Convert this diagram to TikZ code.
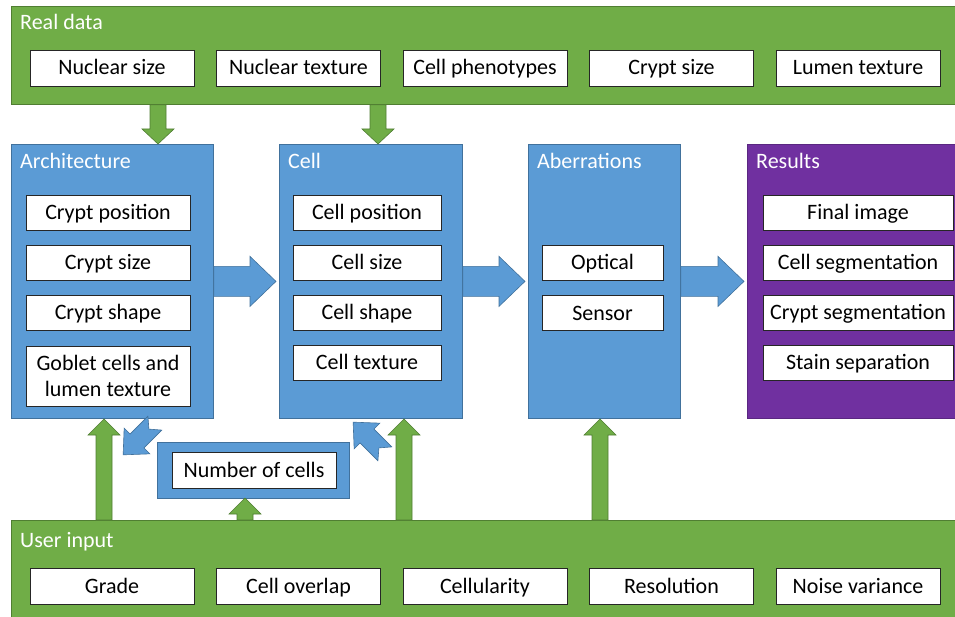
\documentclass[tikz,border=0pt]{standalone}
\usepackage{fontspec}
\setmainfont{Carlito}
\usepackage{tikz}
\usetikzlibrary{positioning,calc,arrows.meta}

\definecolor{officegreen}{HTML}{70AD47}
\definecolor{greenline}{HTML}{507E32}
\definecolor{officeblue}{HTML}{5B9BD5}
\definecolor{blueline}{HTML}{41719C}
\definecolor{officepurple}{HTML}{7030A0}
\definecolor{purpleline}{HTML}{5A2781}

% block arrows: style, tail, tip
\newcommand{\upblock}[3]{\draw[#1] let \p1=(#2), \p2=(#3) in
  (\x2,\y2) -- (\x2+16pt,\y2-16pt) -- (\x2+8pt,\y2-16pt) -- (\x2+8pt,\y1)
  -- (\x2-8pt,\y1) -- (\x2-8pt,\y2-16pt) -- (\x2-16pt,\y2-16pt) -- cycle;}
\newcommand{\downblock}[3]{\draw[#1] let \p1=(#2), \p2=(#3) in
  (\x2,\y2) -- (\x2+16pt,\y2+15pt) -- (\x2+8pt,\y2+15pt) -- (\x2+8pt,\y1)
  -- (\x2-8pt,\y1) -- (\x2-8pt,\y2+15pt) -- (\x2-16pt,\y2+15pt) -- cycle;}
\newcommand{\rightblock}[3]{\draw[#1] let \p1=(#2), \p2=(#3) in
  (\x2-3pt,\y2) -- (\x2-29pt,\y2+25pt) -- (\x2-29pt,\y2+15pt) -- (\x1,\y2+15pt)
  -- (\x1,\y2-15pt) -- (\x2-29pt,\y2-15pt) -- (\x2-29pt,\y2-25pt) -- cycle;}
\newcommand{\notchblock}[2]{\draw[bluearrow, shift={(#1)}, rotate=#2, scale=1.4]
  (-16,-7) -- (2,-7) -- (2,-13) -- (16,0) -- (2,13) -- (2,7) -- (-16,7) -- (-10,0) -- cycle;}

\begin{document}
\begin{tikzpicture}[x=1pt,y=-1pt,
    panel/.style={rectangle, draw=#1line, fill=office#1, line width=0.8pt, anchor=north west, inner sep=0pt},
    ptitle/.style={text=white, anchor=west, inner sep=0pt, text height=15pt, text depth=4pt, font=\fontsize{22}{25}\selectfont},
    boxbase/.style={rectangle, draw=black!85, fill=white, line width=0.8pt, minimum height=35pt, inner sep=0pt,
        align=center, font=\fontsize{22}{26}\selectfont},
    box/.style={boxbase, text height=17pt, text depth=3pt},
    greenarrow/.style={draw=greenline, fill=officegreen, line width=0.6pt},
    bluearrow/.style={draw=blueline, fill=officeblue, line width=0.6pt}]

    \useasboundingbox (0,0) rectangle (955,617);

    % panels
    \node[panel=green, minimum width=944pt, minimum height=98pt] (realdata) at (11,6) {};
    \node[panel=green, minimum width=944pt, minimum height=97pt] (userinput) at (11,520) {};
    \node[panel=blue, minimum width=202pt, minimum height=274pt] (arch) at (11,144) {};
    \node[panel=blue, minimum width=183pt, minimum height=274pt] (cell) at (279,144) {};
    \node[panel=blue, minimum width=152pt, minimum height=274pt] (aberr) at (528,144) {};
    \node[panel=purple, minimum width=208pt, minimum height=274pt] (results) at (747,144) {};
    \node[panel=blue, minimum width=192pt, minimum height=56pt] (ncpanel) at (157,442) {};

    \node[ptitle] (realtitle) at (20,24.5) {Real data};
    \node[ptitle] (usertitle) at (20,541.5) {User input};
    \node[ptitle] (archtitle) at (20,163) {Architecture};
    \node[ptitle] (celltitle) at (288,163) {Cell};
    \node[ptitle] (aberrtitle) at (537,163) {Aberrations};
    \node[ptitle] (restitle) at (756,163) {Results};

    % rows of boxes
    \foreach \t [count=\i] in {Nuclear size, Nuclear texture, Cell phenotypes, Crypt size, Lumen texture}
        \node[box, minimum width=164pt, minimum height=36pt] (rd\i) at ({112+186.5*(\i-1)},68) {\t};
    \foreach \t [count=\i] in {Grade, Cell overlap, Cellularity, Resolution, Noise variance}
        \node[box, minimum width=164pt, minimum height=36pt] (ui\i) at ({112+186.5*(\i-1)},586) {\t};

    \foreach \t [count=\i] in {Crypt position, Crypt size, Crypt shape}
        \node[box, minimum width=164pt] (arch\i) at (108,{212.5+50*(\i-1)}) {\t};
    \node[boxbase, minimum width=164pt, minimum height=60pt] (arch4) at (108,376) {Goblet cells and\\lumen texture};
    \foreach \t [count=\i] in {Cell position, Cell size, Cell shape, Cell texture}
        \node[box, minimum width=148pt] (cell\i) at (367,{212.5+50*(\i-1)}) {\t};
    \node[box, minimum width=121pt] (aberr1) at (602.5,262.5) {Optical};
    \node[box, minimum width=121pt, below=15pt of aberr1] (aberr2) {Sensor};
    \foreach \t [count=\i] in {Final image, Cell segmentation, Crypt segmentation, Stain separation}
        \node[box, minimum width=190pt] (res\i) at (858,{212.5+50*(\i-1)}) {\t};
    \node[box, minimum width=164pt, minimum height=36pt] (ncbox) at (254,470) {Number of cells};

    % connectors
    \coordinate (archtop) at (158,144);
    \coordinate (celltop) at (378,144);
    \coordinate (archbot) at (104,419);
    \coordinate (cellbot) at (404,419);
    \coordinate (aberrbot) at (600,419);
    \coordinate (ncbot) at (245,498);
    \downblock{greenarrow}{realdata.south -| archtop}{archtop}
    \downblock{greenarrow}{realdata.south -| celltop}{celltop}
    \upblock{greenarrow}{userinput.north -| archbot}{archbot}
    \upblock{greenarrow}{userinput.north -| cellbot}{cellbot}
    \upblock{greenarrow}{userinput.north -| aberrbot}{aberrbot}
    \upblock{greenarrow}{userinput.north -| ncbot}{ncbot}

    \rightblock{bluearrow}{arch.east}{cell.west}
    \rightblock{bluearrow}{cell.east}{aberr.west}
    \rightblock{bluearrow}{aberr.east}{results.west}

    \coordinate (ncleft) at (139,439);
    \coordinate (ncright) at (369,438);
    \notchblock{ncleft}{225}
    \notchblock{ncright}{135}
\end{tikzpicture}
\end{document}
